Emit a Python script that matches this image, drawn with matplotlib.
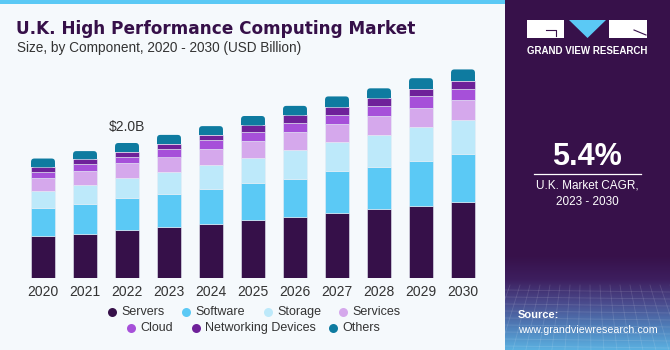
import matplotlib
matplotlib.use("Agg")
import matplotlib.pyplot as plt
import numpy as np
from matplotlib.patches import Rectangle, FancyBboxPatch, Polygon
from matplotlib.colors import LinearSegmentedColormap

plt.rcParams['font.family'] = ['Liberation Sans', 'DejaVu Sans']

years = ['2020', '2021', '2022', '2023', '2024', '2025', '2026', '2027', '2028', '2029', '2030']
servers    = [0.62, 0.65, 0.71, 0.75, 0.80, 0.86, 0.91, 0.97, 1.02, 1.07, 1.13]
software   = [0.41, 0.45, 0.47, 0.49, 0.52, 0.55, 0.56, 0.61, 0.63, 0.66, 0.70]
storage    = [0.26, 0.28, 0.30, 0.33, 0.36, 0.37, 0.43, 0.44, 0.47, 0.50, 0.51]
services   = [0.19, 0.21, 0.22, 0.23, 0.23, 0.25, 0.26, 0.26, 0.28, 0.29, 0.29]
cloud      = [0.09, 0.10, 0.10, 0.11, 0.13, 0.13, 0.14, 0.14, 0.15, 0.17, 0.17]
networking = [0.07, 0.07, 0.07, 0.08, 0.08, 0.10, 0.11, 0.11, 0.11, 0.11, 0.12]
others     = [0.13, 0.12, 0.13, 0.13, 0.13, 0.14, 0.14, 0.16, 0.15, 0.16, 0.17]

series_names = ['Servers', 'Software', 'Storage', 'Services', 'Cloud', 'Networking Devices', 'Others']
series_vals = [servers, software, storage, services, cloud, networking, others]
colors = ['#361049', '#5BC9F5', '#BDE9FA', '#D5A8EC', '#A650D9', '#6E2199', '#0E7BA0']

annot_year = '2022'
annot_text = '$2.0B'

W, H = 670, 350
BG = '#F5F9FC'
fig = plt.figure(figsize=(W / 100, H / 100), dpi=100, facecolor=BG)

# background overlay in pixel coords
bg = fig.add_axes([0, 0, 1, 1], zorder=0)
bg.set_xlim(0, W)
bg.set_ylim(H, 0)
bg.axis('off')

# top stripe
bg.add_patch(Rectangle((0, 0), 505, 4, color='#5BC9F5', lw=0))

# right panel
PURPLE = '#37114A'
bg.add_patch(FancyBboxPatch((505, -10), 175, 360, boxstyle='round,pad=0,rounding_size=8',
                            fc=PURPLE, ec='none'))
cmap = LinearSegmentedColormap.from_list('g', ['#37114A', '#3D1E5E', '#4A4A8C', '#4F7DB8', '#5BB0E0'])
grad = np.linspace(0, 1, 100).reshape(-1, 1)
bg.imshow(grad, extent=[505, 670, 350, 255], cmap=cmap, aspect='auto', zorder=1)
# faint grid lines in the bottom area
for yy in np.arange(290, 350, 7):
    bg.plot([505, 670], [yy, yy + 2], color='white', alpha=0.12, lw=0.6, zorder=2)
for xx in np.arange(500, 680, 10):
    bg.plot([xx, xx + (xx - 587) * 0.3], [285, 350], color='white', alpha=0.12, lw=0.6, zorder=2)

# logo
bg.add_patch(Rectangle((527, 20), 37, 18, fc='white', ec='none', zorder=3))
bg.plot([546, 556, 556], [30, 30, 36], color=PURPLE, lw=0.8, zorder=4)
bg.add_patch(Polygon([[569, 20], [606, 20], [587.5, 38]], closed=True, fc='#5BC9F5', ec='none', zorder=3))
bg.add_patch(Rectangle((609, 20), 38, 18, fc='white', ec='none', zorder=3))
bg.plot([634, 646], [30, 35], color=PURPLE, lw=0.8, zorder=4)
bg.text(587, 51, 'GRAND VIEW RESEARCH', color='white', fontsize=7, fontweight='bold',
        ha='center', va='center', zorder=4)

bg.text(587, 157, '5.4%', color='white', fontsize=22, fontweight='bold', ha='center', va='center', zorder=4)
bg.plot([534, 641], [173.5, 173.5], color='white', lw=0.9, zorder=4)
bg.text(587, 185.5, 'U.K. Market CAGR,', color='white', fontsize=8.5, ha='center', va='center', zorder=4)
bg.text(587, 202, '2023 - 2030', color='white', fontsize=8.5, ha='center', va='center', zorder=4)
bg.text(518, 315, 'Source:', color='white', fontsize=8, fontweight='bold', ha='left', va='center', zorder=4)
bg.text(518, 330, 'www.grandviewresearch.com', color='white', fontsize=7.7, ha='left', va='center', zorder=4)

# titles
bg.text(16, 29, 'U.K. High Performance Computing Market', color='#361049', fontsize=12.2,
        fontweight='bold', ha='left', va='center', zorder=4, family=['DejaVu Sans'])
bg.text(17, 48, 'Size, by Component, 2020 - 2030 (USD Billion)', color='#333333', fontsize=9.8,
        ha='left', va='center', zorder=4)

# legend (manual, two centered rows)
row1 = [(112, 'Servers', 0), (186, 'Software', 1), (268, 'Storage', 2), (343, 'Services', 3)]
row2 = [(131, 'Cloud', 4), (196, 'Networking Devices', 5), (333, 'Others', 6)]
for y, row in [(312, row1), (328, row2)]:
    for x, lab, ci in row:
        bg.scatter([x], [y], s=42, color=colors[ci], zorder=4, lw=0)
        bg.text(x + 9, y, lab, fontsize=9, color='#333333', ha='left', va='center', zorder=4)

# chart axes
px_per_x = 42.0
px_per_y = 67.5
x_left = 43 - 0.55 * px_per_x
x_right = 463 + 0.55 * px_per_x
y_base = H - 278
ymax = 3.3
ax = fig.add_axes([x_left / W, y_base / H, (x_right - x_left) / W, ymax * px_per_y / H], zorder=1)
ax.set_facecolor('none')
ax.set_xlim(-0.55, 10.55)
ax.set_ylim(0, ymax)
for s in ax.spines.values():
    s.set_visible(False)
ax.set_yticks([])
x = np.arange(len(years))
ax.set_xticks(x)
ax.set_xticklabels(years, fontsize=10, color='#333333')
ax.tick_params(axis='x', length=0, pad=5)

bw = 0.57
bottom = np.zeros(len(years))
n = len(series_vals)
for k, (vals, c) in enumerate(zip(series_vals, colors)):
    vals = np.array(vals)
    if k < n - 1:
        ax.bar(x, vals, bw, bottom=bottom, color=c, edgecolor='#E6EEF5', linewidth=0.4, zorder=2)
    else:
        aspect = (1 / px_per_y) / (1 / px_per_x)
        for i in range(len(years)):
            ax.add_patch(FancyBboxPatch((x[i] - bw / 2, bottom[i]), bw, vals[i],
                                        boxstyle='round,pad=0,rounding_size=0.08',
                                        mutation_aspect=aspect, fc=c, ec='none', zorder=2))
            ax.add_patch(Rectangle((x[i] - bw / 2, bottom[i]), bw, vals[i] / 2, fc=c, ec='none', zorder=2))
    bottom = bottom + vals

ai = years.index(annot_year)
ax.text(x[ai], bottom[ai] + 0.14, annot_text, ha='center', va='bottom', fontsize=10, color='#333333')

fig.savefig('out.png', dpi=100, facecolor=BG)
